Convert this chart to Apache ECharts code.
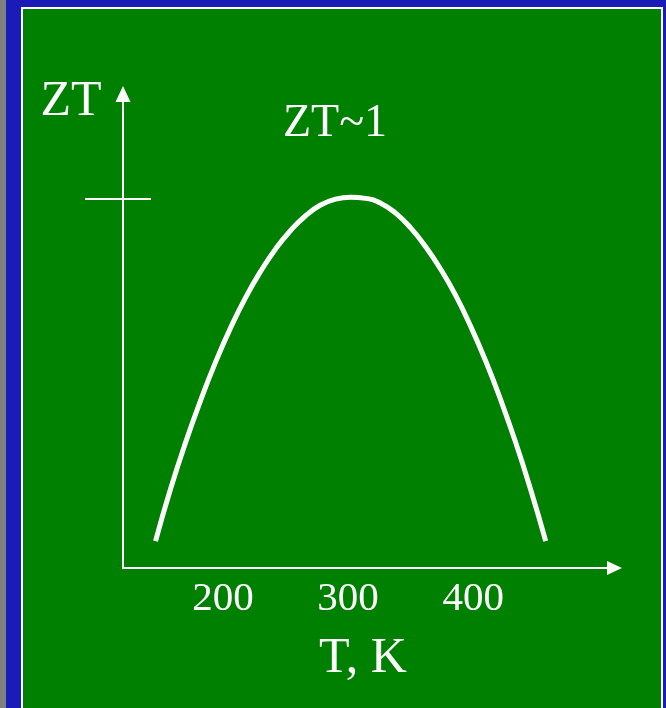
<!DOCTYPE html>
<html>
<head>
<meta charset="utf-8">
<script src="https://cdn.jsdelivr.net/npm/echarts@6/dist/echarts.min.js"></script>
<style>
  html, body { margin: 0; padding: 0; }
  #main { width: 666px; height: 708px; }
</style>
</head>
<body>
<div id="main"></div>
<script>
// temperature (K) and ZT
var temps = [146, 158, 170, 182, 194, 206, 218, 230, 242, 254, 266, 278, 290, 302,
             314, 326, 338, 350, 362, 374, 386, 398, 410, 422, 434, 446, 458];
var zt = [0.073, 0.214, 0.340, 0.454, 0.558, 0.651, 0.733, 0.804, 0.865, 0.915, 0.955, 0.984, 1.000, 1.005,
          1.002, 0.989, 0.962, 0.922, 0.871, 0.810, 0.739, 0.655, 0.561, 0.456, 0.340, 0.212, 0.073];
var xTicks = [200, 300, 400];
var yTicks = [1];

var serif = "'Liberation Serif', 'Times New Roman', serif";
var points = temps.map(function (t, i) { return [t, zt[i]]; });

var chart = echarts.init(document.getElementById('main'));

var option = {
    backgroundColor: '#1b1bb8',
    animation: false,
    grid: { left: 123, right: 51.5, top: 94, bottom: 140 },
    graphic: [
        { type: 'rect', z: -100, shape: { x: 0, y: 0, width: 6, height: 708 }, style: { fill: '#808080' } },
        { type: 'rect', z: -100, shape: { x: 21, y: 7, width: 642, height: 701 }, style: { fill: '#ffffff' } },
        { type: 'rect', z: -99, shape: { x: 23, y: 9, width: 638, height: 699 }, style: { fill: '#008000' } },
        { type: 'text', style: { text: 'ZT', x: 71, y: 102, align: 'center', verticalAlign: 'middle', font: '50px ' + serif, fill: '#fff' } },
        { type: 'text', style: { text: 'ZT~1', x: 335, y: 124, align: 'center', verticalAlign: 'middle', font: '46px ' + serif, fill: '#fff' } },
        { type: 'text', style: { text: 'T, K', x: 363, y: 659, align: 'center', verticalAlign: 'middle', font: '50px ' + serif, fill: '#fff' } }
    ],
    xAxis: {
        type: 'value',
        min: 120,
        max: 513,
        axisLine: { show: true, lineStyle: { color: '#fff', width: 2 }, symbol: ['none', 'triangle'], symbolSize: [14, 15] },
        axisTick: { show: false },
        splitLine: { show: false },
        axisLabel: {
            customValues: xTicks,
            color: '#fff',
            fontFamily: serif,
            fontSize: 41,
            verticalAlign: 'middle',
            margin: 31
        }
    },
    yAxis: [{
        type: 'value',
        min: 0,
        max: 1.285,
        axisLine: { show: true, lineStyle: { color: '#fff', width: 2 }, symbol: ['none', 'triangle'], symbolSize: [15, 16] },
        axisTick: { show: true, customValues: yTicks, length: 38, lineStyle: { color: '#fff', width: 2 } },
        axisLabel: { show: false },
        splitLine: { show: false }
    }, {
        type: 'value',
        position: 'left',
        min: 0,
        max: 1.285,
        axisLine: { show: false },
        axisTick: { show: true, inside: true, customValues: yTicks, length: 28, lineStyle: { color: '#fff', width: 2 } },
        axisLabel: { show: false },
        splitLine: { show: false }
    }],
    series: [{
        type: 'line',
        data: points,
        smooth: 0.5,
        showSymbol: false,
        clip: false,
        lineStyle: { color: '#fff', width: 5 }
    }]
};

chart.setOption(option);
</script>
</body>
</html>
